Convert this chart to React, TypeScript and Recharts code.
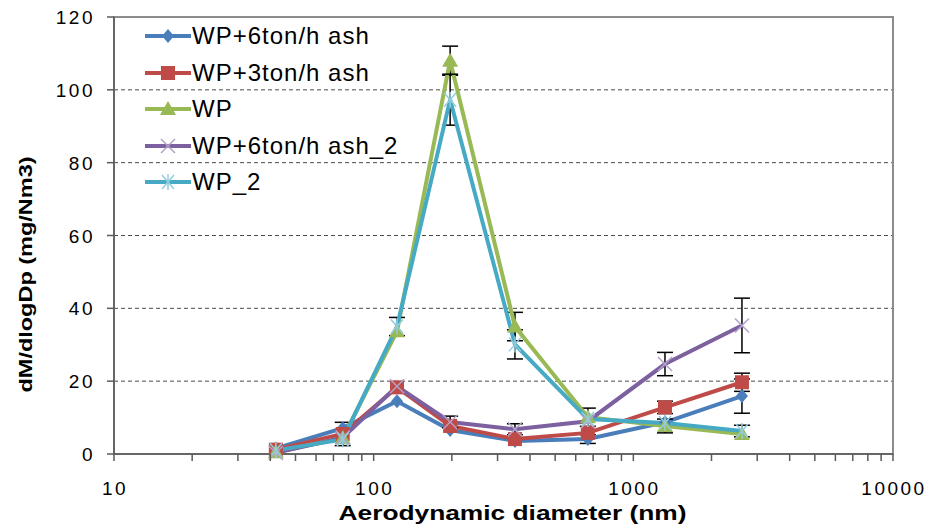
import {
  CartesianGrid,
  ErrorBar,
  Label,
  Legend,
  Line,
  LineChart,
  ReferenceArea,
  XAxis,
  YAxis,
} from "recharts";

// particle size (nm) of each impactor stage
const diameters = [42, 76, 123, 197, 350, 668, 1324, 2620];

// dM/dlogDp (mg/Nm3)
const ash6ton = [1.5, 7.1, 14.5, 6.6, 3.6, 4.1, 8.7, 15.9];
const ash3ton = [1.2, 5.5, 18.3, 7.7, 4.1, 5.8, 12.8, 19.7];
const wpOnly = [0.5, 4.4, 33.7, 108, 35, 10.1, 7.7, 5.5];
const ash6ton2 = [0.3, 4.5, 18.6, 8.8, 6.8, 9.0, 24.7, 35.3];
const wpOnly2 = [1.0, 4.0, 35, 97.3, 30.1, 9.6, 8.5, 6.3];

// +/- error bars (null = none drawn)
const ash6tonErr = [null, null, null, null, null, 1.2, null, 4.7];
const ash3tonErr = [null, 3.2, null, null, null, null, 1.7, 2.5];
const wpOnlyErr = [null, null, null, 4, 3.9, 2.5, 1.9, null];
const ash6ton2Err = [null, null, null, 1.6, 1.5, null, 3.2, 7.5];
const wpOnly2Err = [null, null, 2.5, 7, 4, null, null, 1.6];

const seriesNames = [
  "WP+6ton/h ash",
  "WP+3ton/h ash",
  "WP",
  "WP+6ton/h ash_2",
  "WP_2",
];

const xTicks = [
  10, 20, 30, 40, 50, 60, 70, 80, 90, 100, 200, 300, 400, 500, 600, 700, 800,
  900, 1000, 2000, 3000, 4000, 5000, 6000, 7000, 8000, 9000, 10000,
];
const xLabels = [10, 100, 1000, 10000];
const yTicks = [0, 20, 40, 60, 80, 100, 120];
const gridValues = [20, 40, 60, 80, 100];

const data = diameters.map((d, i) => ({
  d,
  ash6: ash6ton[i],
  ash3: ash3ton[i],
  wp: wpOnly[i],
  ash6b: ash6ton2[i],
  wp2: wpOnly2[i],
  ash6Err: ash6tonErr[i],
  ash3Err: ash3tonErr[i],
  wpErr: wpOnlyErr[i],
  ash6bErr: ash6ton2Err[i],
  wp2Err: wpOnly2Err[i],
}));

const FONT = "'Liberation Sans', Arial, sans-serif";
const AXIS = "#5a5a5a";

type Kind = "diamond" | "square" | "triangle" | "cross" | "star";

const series: { key: string; color: string; kind: Kind; err: string }[] = [
  { key: "ash6", color: "#4a7ebb", kind: "diamond", err: "ash6Err" },
  { key: "ash3", color: "#be4b48", kind: "square", err: "ash3Err" },
  { key: "wp", color: "#98b954", kind: "triangle", err: "wpErr" },
  { key: "ash6b", color: "#7d60a0", kind: "cross", err: "ash6bErr" },
  { key: "wp2", color: "#46aac5", kind: "star", err: "wp2Err" },
];

function marker(kind: Kind, color: string, x: number, y: number, key?: any) {
  if (x == null || y == null || isNaN(x) || isNaN(y)) return <g key={key} />;
  switch (kind) {
    case "diamond":
      return (
        <polygon
          key={key}
          points={`${x},${y - 7} ${x + 6},${y} ${x},${y + 7} ${x - 6},${y}`}
          fill={color}
        />
      );
    case "square":
      return <rect key={key} x={x - 7} y={y - 7} width={14} height={14} fill={color} />;
    case "triangle":
      return (
        <polygon
          key={key}
          points={`${x},${y - 8} ${x + 8},${y + 6} ${x - 8},${y + 6}`}
          fill={color}
        />
      );
    case "cross":
      return (
        <g key={key} stroke="#b3a2c7" strokeWidth={1.5}>
          <line x1={x - 7} y1={y - 7} x2={x + 7} y2={y + 7} />
          <line x1={x - 7} y1={y + 7} x2={x + 7} y2={y - 7} />
        </g>
      );
    default:
      return (
        <g key={key} stroke="#93cddd" strokeWidth={1.5}>
          <line x1={x - 6} y1={y - 7} x2={x + 6} y2={y + 7} />
          <line x1={x - 6} y1={y + 7} x2={x + 6} y2={y - 7} />
          <line x1={x} y1={y - 8} x2={x} y2={y + 8} />
        </g>
      );
  }
}

function XTick({ x, y, payload }: any) {
  const v = payload.value;
  return (
    <g>
      <line x1={x} y1={y} x2={x} y2={y + 7} stroke={AXIS} strokeWidth={1.5} />
      {xLabels.includes(v) && (
        <text
          x={x + 1}
          y={y + 41}
          textAnchor="middle"
          fontSize={19}
          letterSpacing={2.5}
          fill="#000"
          fontFamily={FONT}
        >
          {v}
        </text>
      )}
    </g>
  );
}

function YTick({ x, y, payload }: any) {
  return (
    <g>
      <line x1={x - 7} y1={y} x2={x} y2={y} stroke={AXIS} strokeWidth={1.5} />
      <text
        x={x - 19}
        y={y + 7}
        textAnchor="end"
        fontSize={19}
        letterSpacing={2.5}
        fill="#000"
        fontFamily={FONT}
      >
        {payload.value}
      </text>
    </g>
  );
}

function LegendBox() {
  return (
    <div style={{ fontFamily: FONT }}>
      {series.map((s, i) => (
        <div
          key={s.key}
          style={{ display: "flex", alignItems: "center", height: 36.5 }}
        >
          <svg width={46} height={20}>
            <line x1={0} y1={10} x2={46} y2={10} stroke={s.color} strokeWidth={4} />
            {marker(s.kind, s.color, 23, 10)}
          </svg>
          <span
            style={{
              fontSize: 24,
              letterSpacing: 1,
              marginLeft: 1,
              color: "#000",
              whiteSpace: "nowrap",
            }}
          >
            {seriesNames[i]}
          </span>
        </div>
      ))}
    </div>
  );
}

export default function App() {
  return (
    <div style={{ position: "relative", width: 933, height: 528, fontFamily: FONT }}>
      <style>{`body{margin:0}`}</style>
      <LineChart
        width={933}
        height={528}
        data={data}
        margin={{ top: 17, right: 40, bottom: 0, left: 0 }}
      >
        <CartesianGrid
          horizontal
          vertical={false}
          horizontalValues={gridValues}
          stroke="#4a4a4a"
          strokeDasharray="4 3"
        />
        <ReferenceArea
          x1={10}
          x2={10000}
          y1={0}
          y2={120}
          fill="none"
          stroke="#8c8c8c"
          strokeWidth={2}
        />
        <XAxis
          dataKey="d"
          type="number"
          scale="log"
          domain={[10, 10000]}
          ticks={xTicks}
          interval={0}
          allowDataOverflow
          height={74}
          tickSize={0}
          tickMargin={0}
          tickLine={false}
          tick={<XTick />}
          stroke={AXIS}
          strokeWidth={1.5}
        >
          <Label
            content={({ viewBox }: any) => (
              <text
                x={viewBox.x + viewBox.width / 2 + 9}
                y={viewBox.y + 66}
                textAnchor="middle"
                fontSize={20}
                fontWeight="bold"
                fontFamily={FONT}
                textLength={348}
                lengthAdjust="spacingAndGlyphs"
                fill="#000"
              >
                Aerodynamic diameter (nm)
              </text>
            )}
          />
        </XAxis>
        <YAxis
          type="number"
          domain={[0, 120]}
          ticks={yTicks}
          interval={0}
          width={114}
          tickSize={0}
          tickMargin={0}
          tickLine={false}
          tick={<YTick />}
          stroke={AXIS}
          strokeWidth={1.5}
        >
          <Label
            content={({ viewBox }: any) => {
              const cy = viewBox.y + viewBox.height / 2 + 39;
              return (
                <text
                  x={32}
                  y={cy}
                  transform={`rotate(-90 32 ${cy})`}
                  textAnchor="middle"
                  fontSize={19}
                  fontWeight="bold"
                  fontFamily={FONT}
                  textLength={236}
                  lengthAdjust="spacingAndGlyphs"
                  fill="#000"
                >
                  dM/dlogDp (mg/Nm3)
                </text>
              );
            }}
          />
        </YAxis>
        <Legend
          layout="vertical"
          align="center"
          verticalAlign="middle"
          wrapperStyle={{ left: 145, top: 18, width: 320, height: 185 }}
          content={() => <LegendBox />}
        />
        {series.map((s, i) => (
          <Line
            key={s.key}
            dataKey={s.key}
            name={seriesNames[i]}
            stroke={s.color}
            strokeWidth={4}
            dot={(p: any) => marker(s.kind, s.color, p.cx, p.cy, `${s.key}-${p.index}`)}
            activeDot={false}
            isAnimationActive={false}
          >
            <ErrorBar
              dataKey={s.err}
              direction="y"
              width={8}
              stroke="#000"
              strokeWidth={1.5}
              isAnimationActive={false}
            />
          </Line>
        ))}
      </LineChart>
    </div>
  );
}
